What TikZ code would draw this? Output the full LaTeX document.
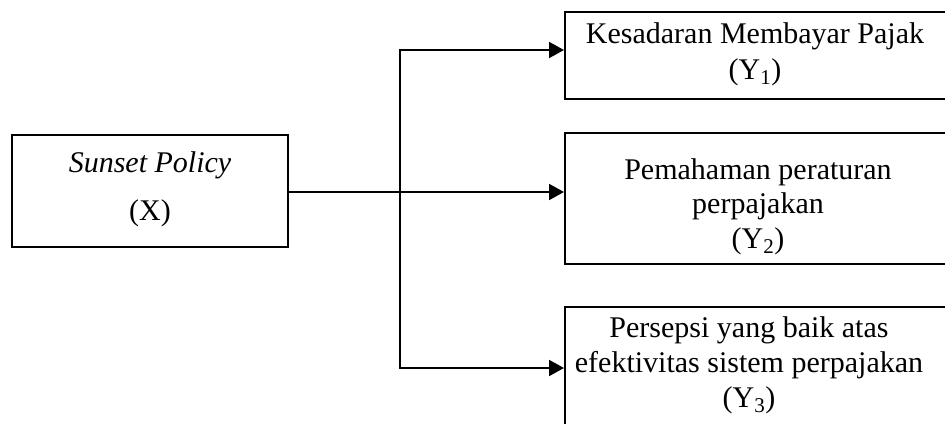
\documentclass[tikz,border=0pt]{standalone}
\usepackage{fontspec}
\setmainfont{Liberation Serif}
\usetikzlibrary{arrows.meta}
\begin{document}
\begin{tikzpicture}[x=1pt,y=-1pt,
  boxstyle/.style={draw=black,line width=2pt,rectangle},
  txt/.style={anchor=base,inner sep=0pt,font=\fontsize{30}{35}\selectfont},
  conn/.style={line width=2pt},
  arr/.style={conn,-{Triangle[length=15pt,width=16pt]}}]
\clip (0,0) rectangle (945,423);
\fill[white] (0,0) rectangle (945,423);
% boxes
\node[boxstyle,minimum width=276pt,minimum height=112pt] (X) at (150,191) {};
\node[boxstyle,minimum width=385pt,minimum height=87pt] (Y1) at (757.5,55.5) {};
\node[boxstyle,minimum width=385pt,minimum height=131pt] (Y2) at (757.5,198.5) {};
\node[boxstyle,minimum width=385pt,minimum height=140pt] (Y3) at (757.5,377) {};
% texts
\node[txt] (tx1) at (150,172) {\itshape Sunset Policy};
\node[txt] (tx2) at (150,220) {(X)};
\node[txt] (ty1a) at (755,43) {Kesadaran Membayar Pajak};
\node[txt] (ty1b) at (755,79) {(Y\textsubscript{1})};
\node[txt] (ty2a) at (758,179) {Pemahaman peraturan};
\node[txt] (ty2b) at (758,213) {perpajakan};
\node[txt] (ty2c) at (758,248) {(Y\textsubscript{2})};
\node[txt] (ty3a) at (749,337) {Persepsi yang baik atas};
\node[txt] (ty3b) at (749,372) {efektivitas sistem perpajakan};
\node[txt] (ty3c) at (749,407) {(Y\textsubscript{3})};
% connectors
\coordinate (j) at (400,192);
\coordinate (jt) at (400,50);
\coordinate (jb) at (400,368);
\draw[conn] (X.east |- j) -- (j);
\draw[conn,line cap=rect] (jt) -- (jb);
\draw[arr] (j) -- (Y2.west |- j);
\draw[arr] (jt) -- (Y1.west |- jt);
\draw[arr] (jb) -- (Y3.west |- jb);
\end{tikzpicture}
\end{document}
